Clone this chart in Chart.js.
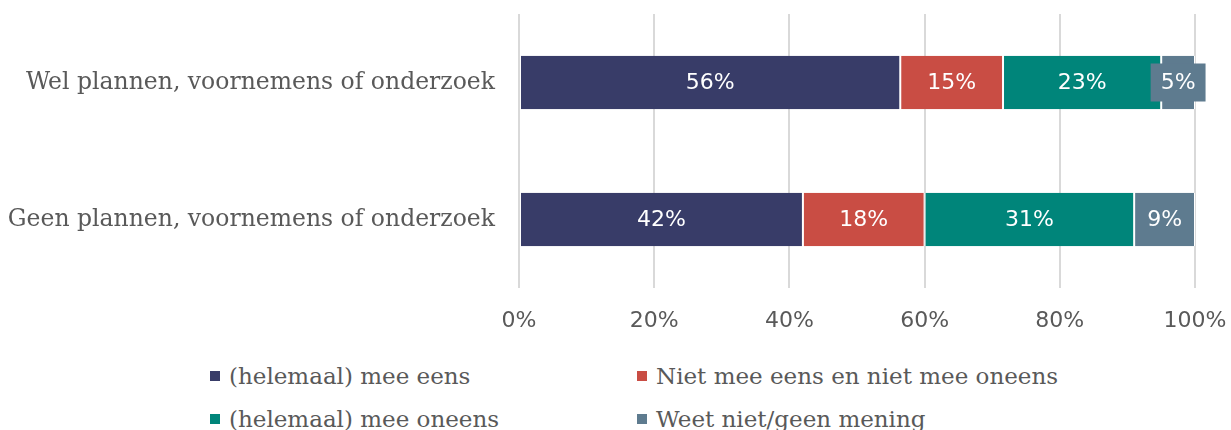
<!DOCTYPE html>
<html>
<head>
<meta charset="utf-8">
<script src="https://cdn.jsdelivr.net/npm/chart.js@4.4.1/dist/chart.umd.min.js"></script>
<style>
  body { margin: 0; background: #fff; width: 1231px; height: 430px; overflow: hidden; }
  #wrap { position: relative; width: 1231px; height: 345px; }
  #legend {
    position: absolute; top: 354px; left: 210px;
    display: grid; grid-template-columns: 427px 400px; grid-auto-rows: 43px;
  }
  .item {
    display: flex; align-items: center;
    font-family: 'DejaVu Serif', serif;
    font-size: 23px; color: #595959; white-space: nowrap;
  }
  .item .box { width: 10px; height: 10px; margin-right: 9px; flex: none; }
</style>
</head>
<body>
<div id="wrap"><canvas id="chart"></canvas></div>
<div id="legend"></div>
<script>
// Categories and series
const categories = ['Wel plannen, voornemens of onderzoek', 'Geen plannen, voornemens of onderzoek'];
const seriesNames = ['(helemaal) mee eens', 'Niet mee eens en niet mee oneens', '(helemaal) mee oneens', 'Weet niet/geen mening'];
const seriesColors = ['#383C68', '#C94D44', '#00857A', '#5E7B8F'];
const agree = [56.4, 42.0];
const neutral = [15.2, 18.0];
const disagree = [23.4, 31.0];
const unknown = [5.0, 9.0];
const tickLabels = ['0%', '20%', '40%', '60%', '80%', '100%'];

const seriesValues = [agree, neutral, disagree, unknown];
const numberFont = "'DejaVu Sans', sans-serif";

// Draw the value labels inside each segment, with a box when the text does not fit
const segmentLabels = {
    id: 'segmentLabels',
    afterDatasetsDraw(chart) {
        const ctx = chart.ctx;
        ctx.save();
        ctx.font = '22px ' + numberFont;
        ctx.textAlign = 'center';
        ctx.textBaseline = 'middle';
        chart.data.datasets.forEach((ds, i) => {
            chart.getDatasetMeta(i).data.forEach((bar, j) => {
                const text = Math.round(ds.data[j]) + '%';
                const left = Math.min(bar.x, bar.base);
                const w = Math.abs(bar.x - bar.base);
                const cx = left + w / 2;
                const tw = ctx.measureText(text).width;
                if (tw + 10 > w) {
                    ctx.fillStyle = ds.backgroundColor;
                    ctx.fillRect(cx - tw / 2 - 10, bar.y - 19, tw + 20, 38);
                }
                ctx.fillStyle = '#ffffff';
                ctx.fillText(text, cx, bar.y + 1);
            });
        });
        ctx.restore();
    }
};

const ctx = document.getElementById('chart').getContext('2d');
const chart = new Chart(ctx, {
    type: 'bar',
    data: {
        labels: categories,
        datasets: seriesNames.map((name, i) => ({
            label: name,
            data: seriesValues[i],
            backgroundColor: seriesColors[i],
            borderColor: '#ffffff',
            borderWidth: { left: 1, right: 1, top: 0, bottom: 0 },
            borderSkipped: false,
            categoryPercentage: 1,
            barPercentage: 0.39
        }))
    },
    options: {
        indexAxis: 'y',
        responsive: true,
        maintainAspectRatio: false,
        animation: false,
        layout: { padding: { top: 14, right: 36, bottom: 0, left: 0 } },
        scales: {
            x: {
                stacked: true,
                min: 0,
                max: 100,
                afterFit: (scale) => {
                    scale.height = 57;
                    scale.paddingLeft = 0;
                    scale.paddingRight = 0;
                },
                grid: { color: '#d9d9d9', lineWidth: 2, drawTicks: false },
                border: { display: false },
                ticks: {
                    stepSize: 20,
                    padding: 20,
                    color: '#595959',
                    font: { family: numberFont, size: 22 },
                    callback: (v, idx) => tickLabels[idx]
                }
            },
            y: {
                stacked: true,
                afterFit: (scale) => {
                    scale.width = 519;
                    scale.paddingTop = 0;
                    scale.paddingBottom = 0;
                },
                grid: { display: false, drawTicks: false },
                border: { display: false },
                ticks: {
                    padding: 24,
                    color: '#595959',
                    font: { family: "'DejaVu Serif', serif", size: 23.5 }
                }
            }
        },
        plugins: {
            legend: { display: false },
            tooltip: { enabled: false }
        }
    },
    plugins: [segmentLabels]
});

// Legend in a 2x2 grid, built from the series arrays
const legend = document.getElementById('legend');
seriesNames.forEach((name, i) => {
    const item = document.createElement('div');
    item.className = 'item';
    const box = document.createElement('span');
    box.className = 'box';
    box.style.background = seriesColors[i];
    item.appendChild(box);
    item.appendChild(document.createTextNode(name));
    legend.appendChild(item);
});
</script>
</body>
</html>
